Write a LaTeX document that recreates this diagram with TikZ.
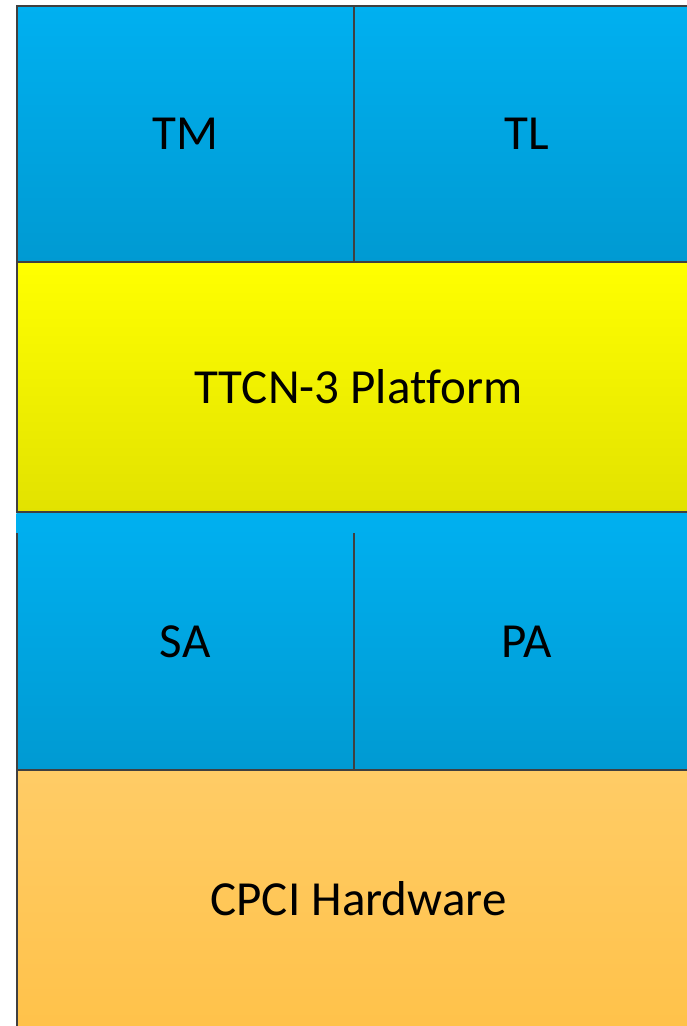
\documentclass[tikz,border=0pt]{standalone}
\usepackage{fontspec}
\setmainfont[Ligatures=NoCommon]{Carlito}
\definecolor{bluetop}{HTML}{00B0F0}
\definecolor{bluebot}{HTML}{009AD2}
\definecolor{yeltop}{HTML}{FFFF00}
\definecolor{yelbot}{HTML}{E2E200}
\definecolor{ortop}{HTML}{FFCC66}
\definecolor{orbot}{HTML}{FFC24A}
\definecolor{edge}{HTML}{404040}
\begin{document}
\begin{tikzpicture}[x=1pt,y=-1pt,
  layer/.style={draw=edge,line width=1.5pt,inner sep=0pt,outer sep=0pt,
    font=\fontsize{49}{58}\selectfont,text=black,anchor=north west},
  bluebox/.style={layer,top color=bluetop,bottom color=bluebot},
  yelbox/.style={layer,top color=yeltop,bottom color=yelbot},
  orbox/.style={layer,top color=ortop,bottom color=orbot},
  edgeline/.style={draw=edge,line width=1.5pt}]
\useasboundingbox (0,0) rectangle (686,1026);
% top row
\node[bluebox,minimum width=337pt,minimum height=256pt] (tm) at (17,6) {TM};
\node[bluebox,minimum width=346pt,minimum height=256pt] (tl) at (354,6) {TL};
% platform
\node[yelbox,minimum width=683pt,minimum height=250pt] (plat) at (17,262) {TTCN-3 Platform};
% adapters (borders drawn below, starting lower)
\node[bluebox,draw=none,minimum width=337.7pt,minimum height=256pt] (sa) at (16.3,513.8) {SA};
\node[bluebox,draw=none,minimum width=346pt,minimum height=256pt] (pa) at (354,513.8) {PA};
\draw[edgeline] ([yshift=-19.5pt,xshift=0.7pt]sa.north west) -- ([xshift=0.7pt]sa.south west) -- (pa.south east);
\draw[edgeline] ([yshift=-19.5pt]pa.north west) -- (pa.south west);
% hardware
\node[orbox,minimum width=683pt,minimum height=258pt] (hw) at (17,769.8) {CPCI Hardware};
\end{tikzpicture}
\end{document}
